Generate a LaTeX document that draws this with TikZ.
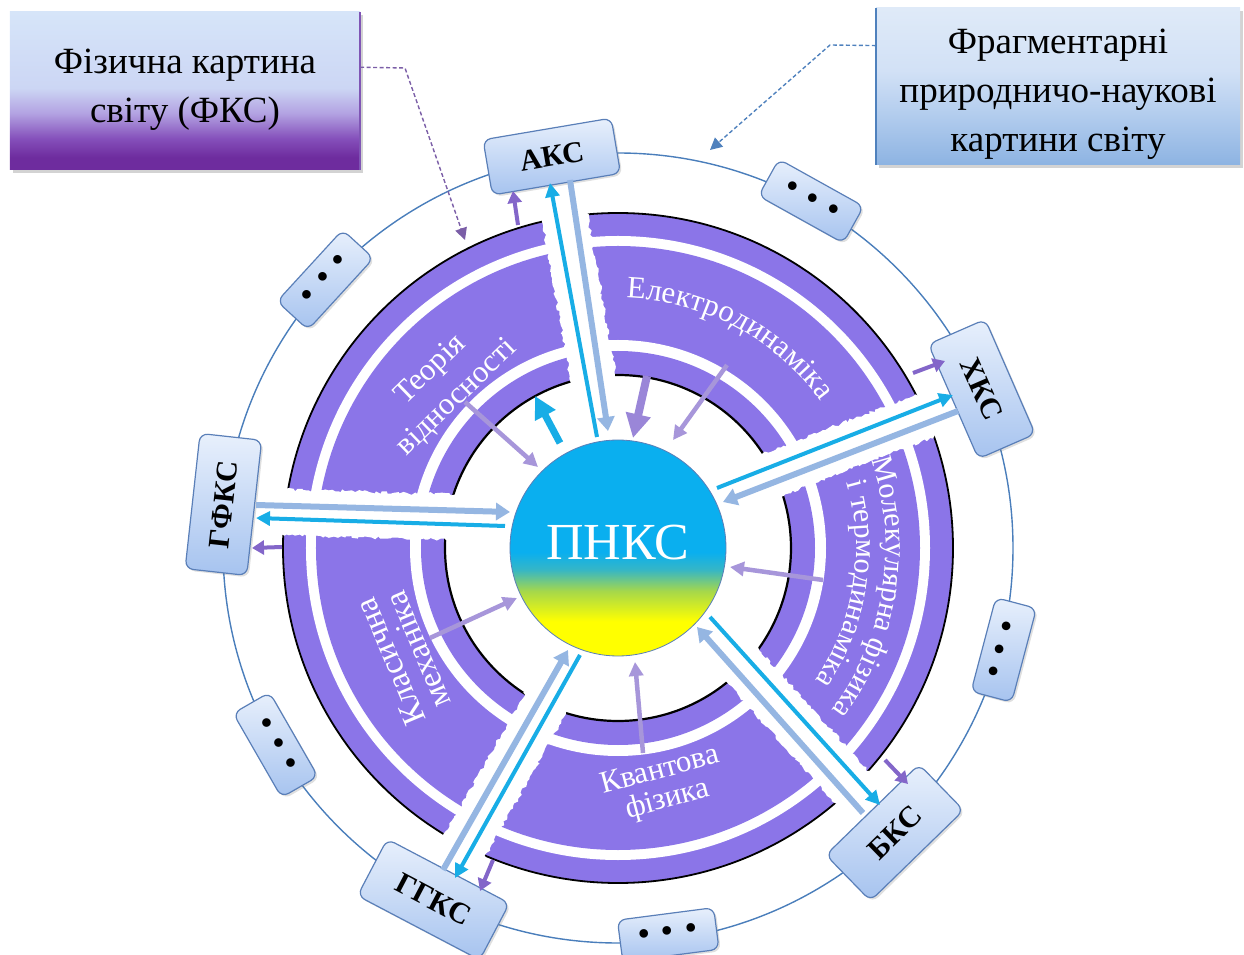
\documentclass[tikz,border=0pt]{standalone}
\usepackage{fontspec}
\setmainfont{Liberation Serif}
\usetikzlibrary{calc,arrows.meta,decorations.pathmorphing,decorations.text,shadows}

\definecolor{sect}{HTML}{8B75E8}
\definecolor{lav}{HTML}{A796DA}
\definecolor{lavthick}{HTML}{9A86D8}
\definecolor{dpur}{HTML}{8366C9}
\definecolor{cyanA}{HTML}{18ADE6}
\definecolor{paleA}{HTML}{95B6E2}
\definecolor{ringline}{HTML}{4A7EBB}
\definecolor{boxline}{HTML}{5A7FB8}
\definecolor{boxtop}{HTML}{E8F0FC}
\definecolor{boxbot}{HTML}{A6C3EF}
\definecolor{fksP}{HTML}{6E2C9E}
\definecolor{fksQ}{HTML}{8550BB}
\definecolor{fksR}{HTML}{B3A3E2}
\definecolor{fksS}{HTML}{CCD6F4}
\definecolor{fksT}{HTML}{D6E5F9}
\definecolor{frA}{HTML}{8DB3E2}
\definecolor{frB}{HTML}{B0CBED}
\definecolor{frC}{HTML}{D2E1F6}
\definecolor{frD}{HTML}{DFEAF8}
\definecolor{pnY}{HTML}{FFFF00}
\definecolor{pnG}{HTML}{A6D84A}
\definecolor{pnT}{HTML}{35B6C6}
\definecolor{pnC}{HTML}{0AAFEF}
\definecolor{fksline}{HTML}{7F55B5}
\definecolor{frline}{HTML}{4F81BD}
\definecolor{dashP}{HTML}{7B5EA7}

\pgfdeclareverticalshading{fksshade}{100bp}{color(0bp)=(fksP); color(25bp)=(fksP); color(29bp)=(fksP); color(35bp)=(fksQ); color(43bp)=(fksR); color(51bp)=(fksS); color(75bp)=(fksT); color(100bp)=(fksT)}
\pgfdeclareverticalshading{frshade}{100bp}{color(0bp)=(frA); color(25bp)=(frA); color(40bp)=(frB); color(55bp)=(frC); color(75bp)=(frD); color(100bp)=(frD)}
\pgfdeclareverticalshading{pnshade}{100bp}{color(0bp)=(pnY); color(25bp)=(pnY); color(33bp)=(pnY); color(40bp)=(pnG); color(45bp)=(pnT); color(49bp)=(pnC); color(75bp)=(pnC); color(100bp)=(pnC)}

\newcommand\gapstrip[2]{\fill[white, decorate, decoration={random steps, segment length=3pt, amplitude=1.6pt}] ($(#1)!23pt!90:(#2)$) -- ($(#2)!23pt!-90:(#1)$) -- ($(#2)!23pt!90:(#1)$) -- ($(#1)!23pt!-90:(#2)$) -- cycle;}
\newcommand\threedots{•\hspace{11pt}•\hspace{11pt}•}

\tikzset{
  kbox/.style={draw=boxline, line width=1.2pt, rounded corners=8pt, top color=boxtop, bottom color=boxbot, inner sep=0pt, font=\fontsize{30}{30}\selectfont\bfseries, drop shadow={opacity=0.25, shadow xshift=2pt, shadow yshift=-2pt}},
  dotbox/.style={kbox, minimum width=97pt, minimum height=42pt, font=\fontsize{36}{36}\selectfont},
  sectxt/.style={text=white, inner sep=0pt, align=center},
  cyanarr/.style={draw=cyanA, line width=4pt, -{Triangle[length=14pt, width=14pt]}},
  palearr/.style={draw=paleA, line width=6pt, -{Triangle[length=14pt, width=17pt]}},
  lavarr/.style={draw=lav, line width=4.5pt, -{Triangle[length=14pt, width=14pt]}},
  dpurarr/.style={draw=dpur, line width=4pt, -{Triangle[length=12pt, width=14pt]}},
  bigbox/.style={inner sep=0pt, drop shadow={opacity=0.35, shadow xshift=3pt, shadow yshift=-3pt}},
  bigtxt/.style={inner sep=0pt, align=center, font=\fontsize{37}{49}\selectfont},
}

\begin{document}
\begin{tikzpicture}[x=1pt,y=1pt]
\useasboundingbox (-618,-407) rectangle (626,548);

% outer ring
\draw[ringline, line width=1.4pt] (0,0) circle (395);

% purple disk
\fill[sect] (0,0) circle (335);
\fill[white] (0,0) circle (312);
\fill[sect] (0,0) circle (302);
\fill[white] (0,0) circle (208);
\fill[sect] (0,0) circle (197);
\fill[white] (0,0) circle (173);
\draw[black, line width=1.8pt] (0,0) circle (335);
\draw[black, line width=2.2pt] (0,0) circle (173);

% gaps
\coordinate (ga1) at (-21,149);   \coordinate (ga2) at (-57,352);
\coordinate (gx1) at (134.8,65.7); \coordinate (gx2) at (323.5,138.7);
\coordinate (gf1) at (-147,30.1);  \coordinate (gf2) at (-350.2,36.2);
\coordinate (gb1) at (110.4,-101.7); \coordinate (gb2) at (245.6,-252.2);
\coordinate (gg1) at (-62.1,-136.6); \coordinate (gg2) at (-161.6,-312.8);
\gapstrip{ga1}{ga2}
\gapstrip{gx1}{gx2}
\gapstrip{gf1}{gf2}
\gapstrip{gb1}{gb2}
\gapstrip{gg1}{gg2}

% centre
\node[circle, minimum size=216pt, inner sep=0pt, shading=pnshade, draw=boxline, line width=0.8pt] (p) at (0,0) {};
\node[text=white, font=\fontsize{52}{52}\selectfont, inner sep=0pt] (ptxt) at (0,5) {ПНКС};

% sector texts
\path[decorate, decoration={text along path, text align=center, text={|\fontsize{31}{31}\selectfont\color{white}|Електродинаміка}}] (95:250) arc[start angle=95, end angle=29, radius=250];
\path[decorate, decoration={text along path, text align=center, text={|\fontsize{30}{30}\selectfont\color{white}|Молекулярна фізика}}] (24:268) arc[start angle=24, end angle=-42, radius=268];
\path[decorate, decoration={text along path, text align=center, text={|\fontsize{30}{30}\selectfont\color{white}|і термодинаміка}}] (22:238) arc[start angle=22, end angle=-40, radius=238];
\node[sectxt, rotate=44, font=\fontsize{31}{38}\selectfont] (tv) at (-174,164) {Теорія\\відносності};
\node[sectxt, rotate=15, font=\fontsize{31}{30}\selectfont] (qf) at (46,-238) {Квантова\\фізика};
\node[sectxt, rotate=113, font=\fontsize{33}{30}\selectfont] (km) at (-214,-108) {Класична\\механіка};

% small boxes
\node[kbox, minimum width=130pt, minimum height=56pt, rotate=9.6] (aks) at (99.6:397) {АКС};
\node[kbox, minimum width=125pt, minimum height=62pt, rotate=-66.4] (hks) at (23.6:397) {ХКС};
\node[kbox, minimum width=130pt, minimum height=64pt, rotate=44.2] (bks) at (-45.8:397) {БКС};
\node[kbox, minimum width=138pt, minimum height=64pt, rotate=-27.7] (ggks) at (-117.7:397) {ГГКС};
\node[kbox, minimum width=136pt, minimum height=62pt, rotate=83.7] (gfks) at (173.7:397) {ГФКС};
\node[dotbox, rotate=-29.1] (d1) at (60.9:397) {\threedots};
\node[dotbox, rotate=47.5] (d2) at (137.5:397) {\threedots};
\node[dotbox, rotate=75.2] (d3) at (-14.8:399) {\threedots};
\node[dotbox, rotate=-60.1] (d4) at (-150.1:395) {\threedots};
\node[dotbox, rotate=7.4] (d5) at (-82.6:390) {\threedots};

% arrow end points
\coordinate (ca1) at (-21,111);  \coordinate (ca2) at (-68,365);
\coordinate (pa1) at (-48,368);  \coordinate (pa2) at (-10,117);
\coordinate (cx1) at (99,60);    \coordinate (cx2) at (335,153);
\coordinate (px1) at (340,137);  \coordinate (px2) at (105,46);
\coordinate (pf1) at (-362,43);  \coordinate (pf2) at (-108,36);
\coordinate (cf1) at (-113,22);  \coordinate (cf2) at (-362,30);
\coordinate (cb1) at (92,-69);   \coordinate (cb2) at (262,-257);
\coordinate (pb1) at (245,-265); \coordinate (pb2) at (79,-79);
\coordinate (cg1) at (-38,-107); \coordinate (cg2) at (-163,-330);
\coordinate (pg1) at (-175,-322); \coordinate (pg2) at (-50,-102);

\draw[palearr] (pa1) -- (pa2);
\draw[cyanarr] (ca1) -- (ca2);
\draw[palearr] (px1) -- (px2);
\draw[cyanarr] (cx1) -- (cx2);
\draw[palearr] (pf1) -- (pf2);
\draw[cyanarr] (cf1) -- (cf2);
\draw[palearr] (pb1) -- (pb2);
\draw[cyanarr] (cb1) -- (cb2);
\draw[palearr] (pg1) -- (pg2);
\draw[cyanarr] (cg1) -- (cg2);

% thick arrows
\coordinate (tc1) at (-58,105); \coordinate (tc2) at (-83,152);
\draw[draw=cyanA, line width=7pt, -{Triangle[length=22pt, width=22pt]}] (tc1) -- (tc2);
\coordinate (tl1) at (29,172); \coordinate (tl2) at (15,110);
\draw[draw=lavthick, line width=8pt, -{Triangle[length=24pt, width=24pt]}] (tl1) -- (tl2);

% lavender inward
\coordinate (lt1) at (-153,146); \coordinate (lt2) at (-80,81);
\coordinate (le1) at (109,183);  \coordinate (le2) at (55,108);
\coordinate (lm1) at (205,-32);  \coordinate (lm2) at (112,-19);
\coordinate (lq1) at (25,-205);  \coordinate (lq2) at (17,-114);
\coordinate (lk1) at (-188,-90); \coordinate (lk2) at (-101,-50);
\draw[lavarr] (lt1) -- (lt2);
\draw[lavarr] (le1) -- (le2);
\draw[lavarr] (lm1) -- (lm2);
\draw[lavarr] (lq1) -- (lq2);
\draw[lavarr] (lk1) -- (lk2);

% dark purple outward
\coordinate (oa1) at (-100,323); \coordinate (oa2) at (-105,357);
\coordinate (ox1) at (295,175);  \coordinate (ox2) at (327,187);
\coordinate (of1) at (-336,1);   \coordinate (of2) at (-366,0);
\coordinate (ob1) at (267,-212); \coordinate (ob2) at (290,-236);
\coordinate (og1) at (-125,-312); \coordinate (og2) at (-138,-343);
\draw[dpurarr] (oa1) -- (oa2);
\draw[dpurarr] (ox1) -- (ox2);
\draw[dpurarr] (of1) -- (of2);
\draw[dpurarr] (ob1) -- (ob2);
\draw[dpurarr] (og1) -- (og2);

% big boxes
\node[bigbox, shading=fksshade, minimum width=350pt, minimum height=158pt] (fks) at (-433,457) {};
\node[bigtxt] (fkstxt) at (-433,458) {Фізична картина\\світу (ФКС)};
\draw[fksline, line width=1.5pt] (fks.north east) -- (fks.south east);
\node[bigbox, shading=frshade, minimum width=364pt, minimum height=157pt] (fr) at (440,461.5) {};
\node[bigtxt] (frtxt) at (440,454) {Фрагментарні\\природничо-наукові\\картини світу};
\draw[frline, line width=1.5pt] (fr.north west) -- (fr.south west);

% dashed connectors
\coordinate (fk1) at ($(fks.north east)!0.35!(fks.south east)$);
\coordinate (fkm) at (-213,480);
\coordinate (fk2) at (-153,308);
\draw[dashP, line width=1.4pt, dash pattern=on 4pt off 2.5pt, -{Triangle[length=12pt, width=12pt]}] (fk1) -- (fkm) -- (fk2);
\coordinate (fr1) at ($(fr.north west)!0.24!(fr.south west)$);
\coordinate (frm) at (212,503);
\coordinate (fr2) at (92,398);
\draw[frline, line width=1.4pt, dash pattern=on 4pt off 2.5pt, -{Triangle[length=12pt, width=12pt]}] (fr1) -- (frm) -- (fr2);
\end{tikzpicture}
\end{document}
